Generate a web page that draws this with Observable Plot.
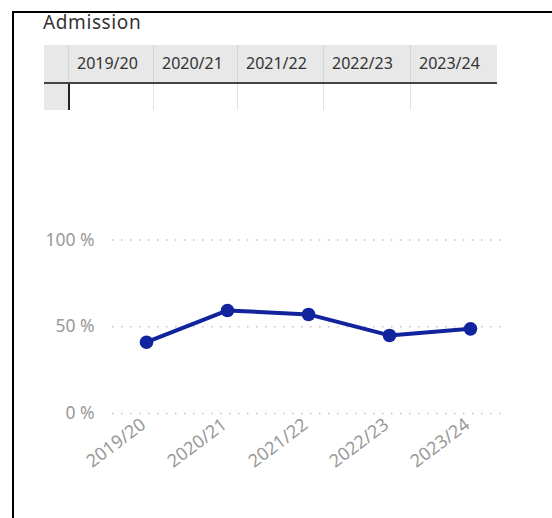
<!DOCTYPE html>
<html>
<head>
<meta charset="utf-8">
<script src="https://cdn.jsdelivr.net/npm/d3@7"></script>
<script src="https://cdn.jsdelivr.net/npm/@observablehq/plot@0.6"></script>
<style>
  html, body { margin: 0; padding: 0; background: #fff; }
  body { width: 552px; height: 518px; position: relative; overflow: hidden; font-family: "Noto Sans", "Open Sans", sans-serif; }
  #frame { position: absolute; left: 12px; top: 11px; width: 560px; height: 520px; border-left: 2px solid #000; border-top: 2px solid #000; }
  #title { position: absolute; left: 43px; top: 10px; font-size: 19px; letter-spacing: 0.6px; color: #333; line-height: 24px; }
  .cell { position: absolute; box-sizing: border-box; }
  .hdr { background: #e8e8e8; color: #333; font-size: 16px; line-height: 36px; padding-left: 8px; }
  #chart { position: absolute; left: 0; top: 190px; }
</style>
</head>
<body>
<div id="frame"></div>
<div id="title">Admission</div>
<div id="table"></div>
<div id="chart"></div>
<script>
const years = ["2019/20", "2020/21", "2021/22", "2022/23", "2023/24"];
const admission = [41.1, 59.4, 57.1, 45.0, 48.8];
const yTicks = [0, 50, 100];

// Matrix-like header table
const colEdges = [44, 68, 153, 237, 323, 410, 497];
const table = document.getElementById("table");
function cell(cls, left, top, width, height, text, extra) {
  const d = document.createElement("div");
  d.className = "cell " + cls;
  Object.assign(d.style, { left: left + "px", top: top + "px", width: width + "px", height: height + "px" }, extra || {});
  if (text) d.textContent = text;
  table.appendChild(d);
}
// header row
cell("hdr", colEdges[0], 45, colEdges[1] - colEdges[0], 38, "");
years.forEach((yr, i) => {
  cell("hdr", colEdges[i + 1], 45, colEdges[i + 2] - colEdges[i + 1], 38, yr,
    { borderLeft: "1px solid #d6d6d6" });
});
// header bottom rule
cell("", colEdges[0], 82, colEdges[6] - colEdges[0], 2, "", { background: "#444" });
// second row
cell("", colEdges[0], 84, colEdges[1] - colEdges[0], 26, "", { background: "#e8e8e8" });
cell("", colEdges[1], 84, 2, 26, "", { background: "#222" });
for (let i = 2; i < 6; i++) cell("", colEdges[i], 84, 1, 26, "", { background: "#e2e2e2" });

const data = years.map((year, i) => ({ year, value: admission[i] }));
const color = "#12239E";

const chart = Plot.plot({
  width: 552,
  height: 328,
  marginTop: 49.5,
  marginBottom: 105,
  marginLeft: 112,
  marginRight: 49,
  style: { fontFamily: "Noto Sans, Open Sans, sans-serif", background: "transparent" },
  x: { type: "point", domain: years, padding: 0.4, label: null },
  y: { domain: [0, 100], label: null },
  marks: [
    Plot.gridY(yTicks, { stroke: "#c4c4c4", strokeOpacity: 1, strokeWidth: 1.5, strokeDasharray: "1.5,7.5" }),
    Plot.axisY(yTicks, { tickSize: 0, tickPadding: 18, tickFormat: d => d + " %", fontSize: 17.5, fill: "#999", label: null }),
    Plot.axisX({ tickRotate: -37, tickSize: 0, tickPadding: 9, fontSize: 18, fill: "#999", label: null, dx: -3 }),
    Plot.line(data, { x: "year", y: "value", stroke: color, strokeWidth: 4 }),
    Plot.dot(data, { x: "year", y: "value", r: 6.8, fill: color, stroke: "none" })
  ]
});
document.getElementById("chart").appendChild(chart);
</script>
</body>
</html>
